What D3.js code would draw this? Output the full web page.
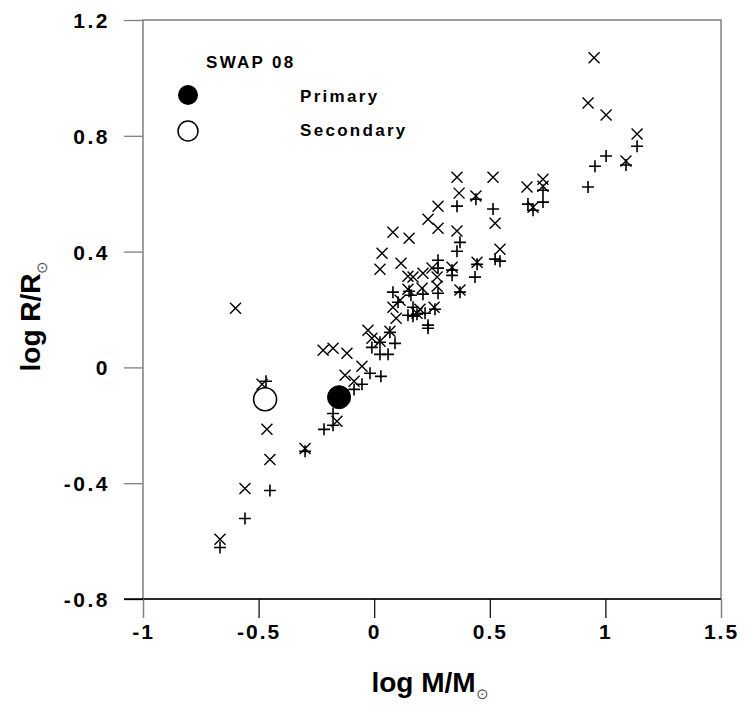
<!DOCTYPE html>
<html>
<head>
<meta charset="utf-8">
<script src="https://cdn.jsdelivr.net/npm/d3@7"></script>
<style>
  html, body { margin: 0; padding: 0; background: #fff; }
  text { font-family: "Liberation Sans", Arial, sans-serif; }
</style>
</head>
<body>
<svg id="chart" width="745" height="726"></svg>
<script>
// ---- data ----
const crossM = [0.951,0.925,1.003,1.137,1.089,0.358,0.514,0.730,0.730,0.661,0.367,0.440,0.276,0.687,0.523,0.233,0.276,0.358,0.081,0.151,0.544,0.034,0.445,0.116,0.337,0.025,0.250,0.211,0.146,0.168,0.272,0.272,0.371,0.146,0.207,0.112,0.081,0.198,0.185,0.259,0.095,0.068,-0.027,-0.010,0.025,-0.118,-0.221,-0.178,-0.053,-0.126,-0.087,-0.161,-0.485,-0.464,-0.451,-0.559,-0.667,-0.299,-0.600];
const crossR = [1.070,0.913,0.872,0.806,0.713,0.657,0.657,0.650,0.626,0.623,0.602,0.592,0.557,0.553,0.498,0.512,0.481,0.471,0.467,0.446,0.408,0.394,0.363,0.360,0.346,0.339,0.343,0.325,0.315,0.312,0.312,0.280,0.267,0.270,0.273,0.232,0.208,0.201,0.187,0.208,0.170,0.125,0.128,0.101,0.090,0.049,0.059,0.066,0.004,-0.027,-0.048,-0.186,-0.058,-0.214,-0.318,-0.418,-0.594,-0.280,0.204];
const plusM = [1.137,1.003,0.955,1.089,0.925,0.358,0.514,0.665,0.687,0.730,0.730,0.440,0.371,0.358,0.523,0.544,0.445,0.436,0.337,0.371,0.276,0.276,0.337,0.276,0.081,0.159,0.211,0.151,0.103,0.168,0.168,0.146,0.185,0.220,0.263,0.233,0.233,0.068,0.025,0.090,-0.010,0.025,0.060,-0.018,0.029,-0.053,-0.087,-0.178,-0.178,-0.217,-0.299,-0.468,-0.451,-0.559,-0.667];
const plusR = [0.764,0.730,0.695,0.699,0.623,0.557,0.547,0.564,0.543,0.612,0.571,0.581,0.432,0.401,0.374,0.367,0.356,0.312,0.318,0.260,0.370,0.343,0.336,0.256,0.260,0.249,0.253,0.263,0.225,0.208,0.177,0.180,0.184,0.187,0.201,0.146,0.135,0.121,0.087,0.083,0.069,0.045,0.045,-0.020,-0.031,-0.058,-0.076,-0.159,-0.200,-0.214,-0.290,-0.048,-0.425,-0.522,-0.622];
const primary = { m: -0.152, r: -0.103 };
const secondary = { m: -0.472, r: -0.110 };
const xTicks = [-1, -0.5, 0, 0.5, 1, 1.5];
const yTicks = [-0.8, -0.4, 0, 0.4, 0.8, 1.2];
const xTickLabels = ["-1", "-0.5", "0", "0.5", "1", "1.5"];
const yTickLabels = ["-0.8", "-0.4", "0", "0.4", "0.8", "1.2"];
const legendTitle = "SWAP 08";
const legendLabels = ["Primary", "Secondary"];

// ---- layout ----
const svg = d3.select("#chart");
const L = 143, R = 721, T = 20, B = 599;
const x = d3.scaleLinear().domain([-1, 1.5]).range([L, R]);
const y = d3.scaleLinear().domain([-0.8, 1.2]).range([B, T]);
const FONT = "'Liberation Sans', Arial, sans-serif";

// frame (gray)
svg.append("rect").attr("x", L).attr("y", T).attr("width", R - L).attr("height", B - T)
  .attr("fill", "none").attr("stroke", "#808080").attr("stroke-width", 1.5);

// x axis (black)
const xAxis = d3.axisBottom(x).tickValues(xTicks).tickSize(19).tickSizeOuter(0)
  .tickFormat((d, i) => xTickLabels[i]);
const gx = svg.append("g").attr("transform", `translate(0,${B})`).call(xAxis);
gx.select(".domain").attr("stroke", "#000").attr("stroke-width", 1.3).attr("d", `M${L - 19},0H${R}`);
gx.selectAll(".tick line").attr("stroke", "#000").attr("stroke-width", 1.2);
gx.selectAll(".tick text").attr("font-family", FONT).attr("font-weight", "bold")
  .attr("font-size", 21).attr("letter-spacing", 2).attr("fill", "#000").attr("y", 25).attr("dy", "0.71em");
gx.selectAll(".tick").filter((d, i) => i === 0 || i === xTicks.length - 1).select("line").attr("stroke", "#808080").attr("stroke-width", 1.5);

// y axis (gray ticks)
const yAxis = d3.axisLeft(y).tickValues(yTicks).tickSize(19).tickSizeOuter(0)
  .tickFormat((d, i) => yTickLabels[i]);
const gy = svg.append("g").attr("transform", `translate(${L},0)`).call(yAxis);
gy.select(".domain").remove();
gy.selectAll(".tick line").attr("stroke", "#808080").attr("stroke-width", 1.3);
gy.selectAll(".tick").filter(d => d === -0.8).select("line").attr("stroke", "#000");
gy.selectAll(".tick text").attr("font-family", FONT).attr("font-weight", "bold")
  .attr("font-size", 21).attr("letter-spacing", 2.5).attr("fill", "#000").attr("x", -33).attr("dy", "0.36em");

// axis titles
const xt = svg.append("text").attr("x", 430).attr("y", 692).attr("text-anchor", "middle")
  .attr("font-family", FONT).attr("font-weight", "bold").attr("font-size", 28);
xt.append("tspan").text("log M/M");
xt.append("tspan").text("\u2299").attr("font-weight", "normal").attr("font-size", 15)
  .attr("fill", "#555").attr("dy", 7);

const yt = svg.append("text").attr("transform", "translate(40,316) rotate(-90)").attr("text-anchor", "middle")
  .attr("font-family", FONT).attr("font-weight", "bold").attr("font-size", 28);
yt.append("tspan").text("log R/R");
yt.append("tspan").text("\u2299").attr("font-weight", "normal").attr("font-size", 15)
  .attr("fill", "#555").attr("dy", 7);

// markers
const crossData = crossM.map((m, i) => ({ m, r: crossR[i] }));
const plusData = plusM.map((m, i) => ({ m, r: plusR[i] }));
const h = 5.5;
svg.append("g").selectAll("path").data(crossData).join("path")
  .attr("transform", d => `translate(${x(d.m)},${y(d.r)})`)
  .attr("d", `M${-h},${-h}L${h},${h}M${-h},${h}L${h},${-h}`)
  .attr("stroke", "#000").attr("stroke-width", 1.4).attr("fill", "none");
const p = 6;
svg.append("g").selectAll("path").data(plusData).join("path")
  .attr("transform", d => `translate(${x(d.m)},${y(d.r)})`)
  .attr("d", `M${-p},0H${p}M0,${-p}V${p}`)
  .attr("stroke", "#000").attr("stroke-width", 1.6).attr("fill", "none");

// binary components
svg.append("circle").attr("cx", x(secondary.m)).attr("cy", y(secondary.r)).attr("r", 11.5)
  .attr("fill", "#fff").attr("stroke", "#000").attr("stroke-width", 1.5);
svg.append("circle").attr("cx", x(primary.m)).attr("cy", y(primary.r)).attr("r", 11.5)
  .attr("fill", "#000").attr("stroke", "#000").attr("stroke-width", 1);

// legend
svg.append("text").attr("x", 206).attr("y", 68).text(legendTitle)
  .attr("font-family", FONT).attr("font-weight", "bold").attr("font-size", 17).attr("letter-spacing", 2.3);
svg.append("circle").attr("cx", 188).attr("cy", 95).attr("r", 10).attr("fill", "#000");
svg.append("circle").attr("cx", 188).attr("cy", 131).attr("r", 10).attr("fill", "#fff")
  .attr("stroke", "#000").attr("stroke-width", 1.5);
legendLabels.forEach((t, i) => {
  svg.append("text").attr("x", 300).attr("y", 102 + i * 34).text(t)
    .attr("font-family", FONT).attr("font-weight", "bold").attr("font-size", 17).attr("letter-spacing", 2.3);
});
</script>
</body>
</html>
